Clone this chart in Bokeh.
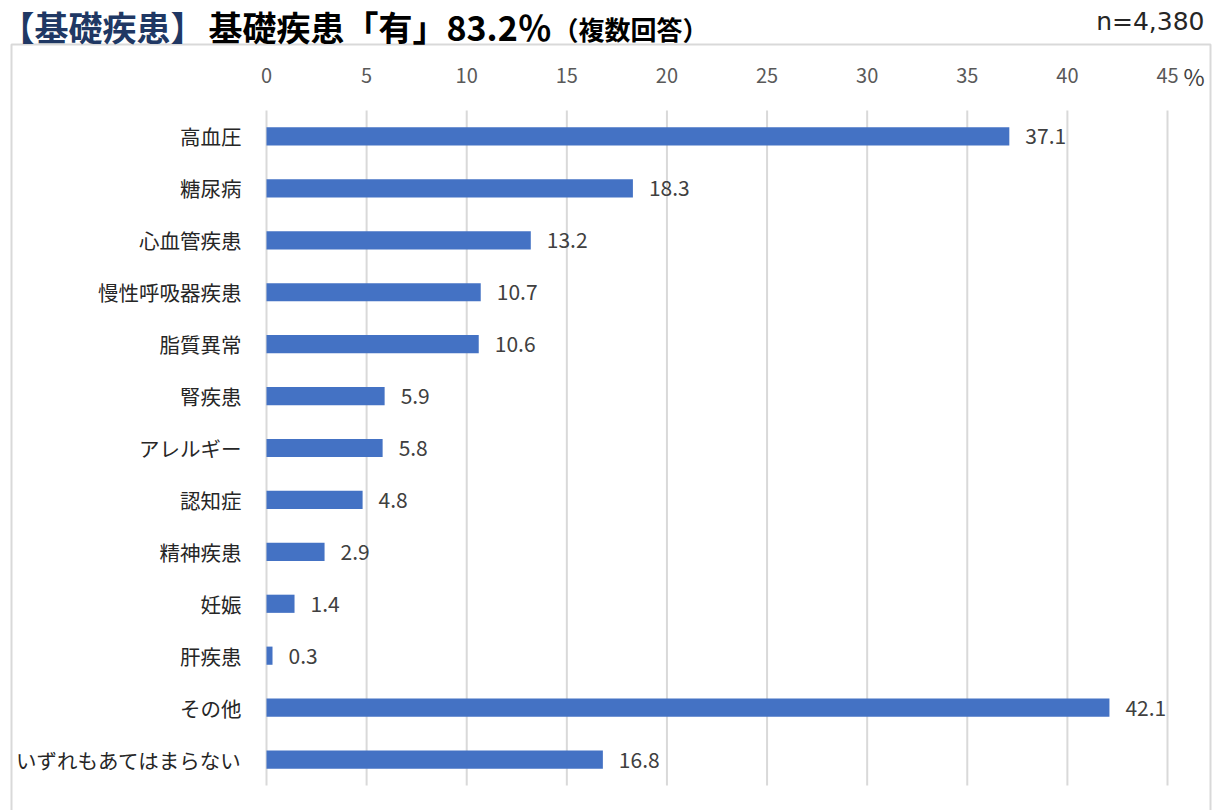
from bokeh.plotting import figure
from bokeh.models import Range1d, ColumnDataSource
from bokeh.core.properties import value
from bokeh.embed import file_html
from bokeh.resources import INLINE

categories = ["高血圧", "糖尿病", "心血管疾患", "慢性呼吸器疾患", "脂質異常", "腎疾患",
              "アレルギー", "認知症", "精神疾患", "妊娠", "肝疾患", "その他",
              "いずれもあてはまらない"]
values = [37.1, 18.3, 13.2, 10.7, 10.6, 5.9, 5.8, 4.8, 2.9, 1.4, 0.3, 42.1, 16.8]
x_ticks = [0, 5, 10, 15, 20, 25, 30, 35, 40, 45]
x_unit = "%"

title_a = "【基礎疾患】"
title_b = "基礎疾患「有」83.2％"
title_d = "（複数回答）"
n_text = "n=4,380"

FONT = "Noto Sans CJK JP"
W, H = 1212, 810

# ---- layout (pixels on the page) ----
BOX_L, BOX_R, BOX_T, BOX_B = 11, 1210, 44, 815  # bordered chart box (bottom runs off page)
AX0_PX, AX45_PX = 266, 1167                     # where 0 and 45 fall
SLOT_T, SLOT_B = 110, 785                       # top / bottom of the bar area

n = len(categories)
pos = [n - 1 - i for i in range(n)]             # numeric slot of each category
xmax = x_ticks[-1]
ppu_x = (AX45_PX - AX0_PX) / xmax
ppu_y = (SLOT_B - SLOT_T) / n
y_top_slot, y_bot_slot = n - 0.5, -0.5

def px2x(X):
    return (X - AX0_PX) / ppu_x

def px2y(Y):
    return y_top_slot - (Y - SLOT_T) / ppu_y

src = ColumnDataSource(dict(cat=categories, pos=pos, val=values,
                            lab=[f"{v:.1f}" for v in values]))

p = figure(width=W, height=H, output_backend="svg", toolbar_location=None,
           x_range=Range1d(px2x(0), px2x(W)), y_range=Range1d(px2y(H), px2y(0)),
           x_axis_location=None, y_axis_location=None,
           min_border=0)
p.outline_line_color = None
p.grid.visible = False
p.background_fill_color = "white"
p.border_fill_color = "white"

# bordered chart box
p.quad(left=[px2x(BOX_L)], right=[px2x(BOX_R)], top=[px2y(BOX_T)],
       bottom=[px2y(BOX_B)], fill_color=None, line_color="#d9d9d9", line_width=2)

# vertical grid lines, only over the bar area
p.segment(x0=x_ticks, x1=x_ticks, y0=[y_bot_slot] * len(x_ticks),
          y1=[y_top_slot] * len(x_ticks), line_color="#d9d9d9", line_width=2)

# bars
p.hbar(y="pos", left=0, right="val", height=0.35, source=src,
       fill_color="#4472c4", line_color=None)

# value labels
p.text(x="val", y="pos", text="lab", source=src, x_offset=16,
       text_baseline="middle", text_align="left", text_font=value(FONT),
       text_font_size="21px", text_color="#404040")

# category labels
p.text(x=0, y="pos", text="cat", source=src, x_offset=-25,
       text_baseline="middle", text_align="right", text_font=value(FONT),
       text_font_size="20.5px", text_color="#262626")

# tick labels along the top
p.text(x=x_ticks, y=[y_top_slot] * len(x_ticks),
       text=[str(t) for t in x_ticks], y_offset=-35,
       text_baseline="middle", text_align="center", text_font=value(FONT),
       text_font_size="20px", text_color="#595959")
p.text(x=[xmax], y=[y_top_slot], text=[x_unit], x_offset=16, y_offset=-35,
       text_baseline="middle", text_align="left", text_font=value(FONT),
       text_font_size="23px", text_color="#404040")

def page_text(text, X, Ymid, size, color, bold=True, align="left", font=FONT):
    p.text(x=[px2x(X)], y=[px2y(Ymid)], text=[text], text_font=value(font),
           text_font_size=size, text_color=color,
           text_font_style="bold" if bold else "normal",
           text_align=align, text_baseline="middle")

page_text(title_a, 0, 26, "34px", "#203864")
page_text(title_b, 208, 26, "34px", "#000000")
page_text(title_d, 552, 28, "26px", "#000000")
page_text(n_text, 1204, 21, "25px", "#262626", bold=False, font="DejaVu Sans",
          align="right")

open("out.html", "w").write(file_html(p, INLINE))
